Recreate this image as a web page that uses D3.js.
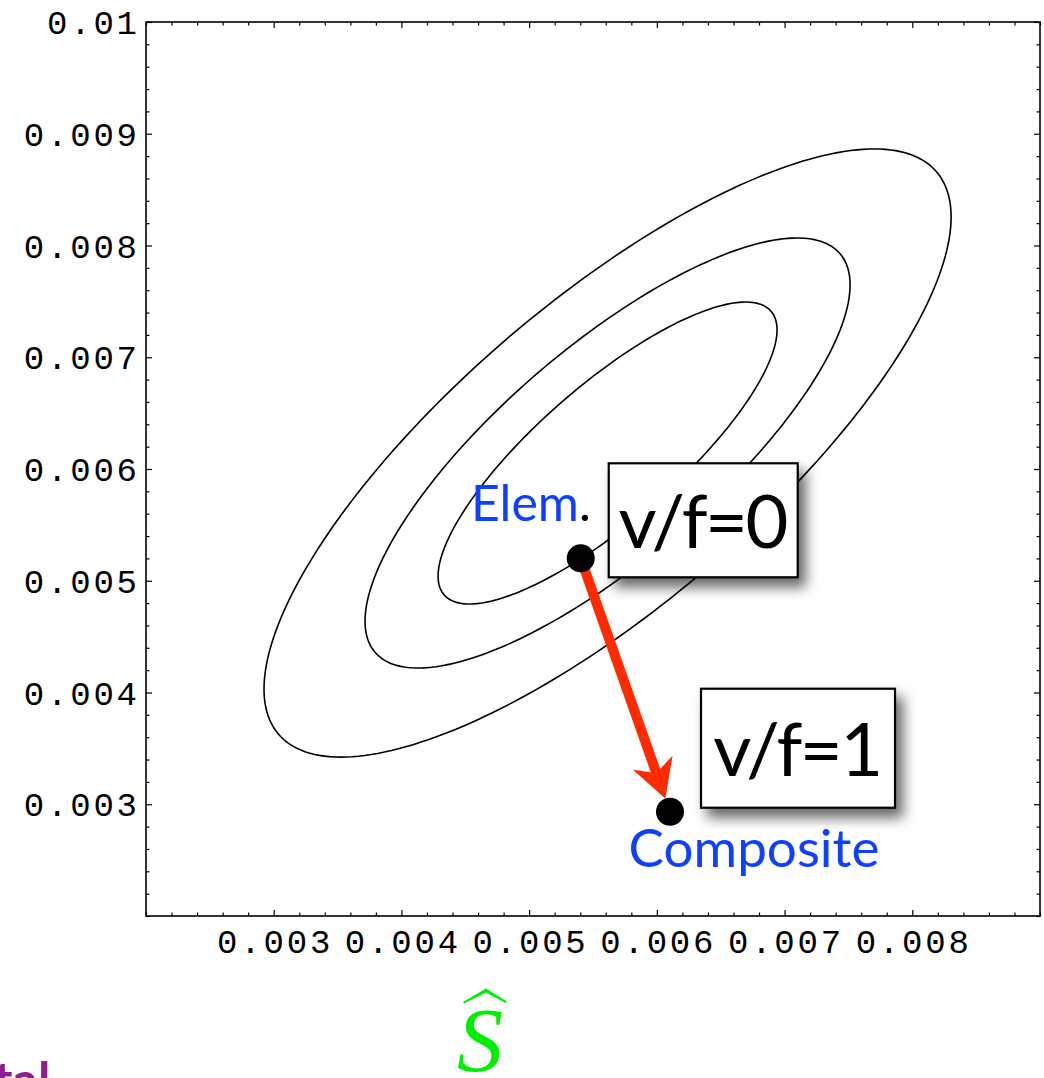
<!DOCTYPE html>
<html>
<head>
<meta charset="utf-8">
<script src="https://cdn.jsdelivr.net/npm/d3@7"></script>
<style>
  html, body { margin: 0; padding: 0; background: #fff; }
  svg { display: block; }
</style>
</head>
<body>
<svg id="chart" width="1044" height="1078"></svg>
<script>
// ---------------- data ----------------
const xDomain = [0.002, 0.009];
const yDomain = [0.002, 0.010];
const xTickValues = [0.003, 0.004, 0.005, 0.006, 0.007, 0.008];
const xTickLabels = ["0.003", "0.004", "0.005", "0.006", "0.007", "0.008"];
const yTickValues = [0.003, 0.004, 0.005, 0.006, 0.007, 0.008, 0.009, 0.010];
const yTickLabels = ["0.003", "0.004", "0.005", "0.006", "0.007", "0.008", "0.009", "0.01"];
const minorStep = 0.0002;

// elliptical contour lines:
// common centre, and for each contour its right-most point and its top y value
const contourCenter = [0.005614, 0.006143];
const contourRightX = [0.008304, 0.007513, 0.006941];
const contourRightY = [0.008255, 0.007647, 0.007244];
const contourTopY   = [0.008864, 0.008067, 0.007494];

const pointNames = ["Elem", "Composite"];
const pointX = [0.005404, 0.006103];
const pointY = [0.005201, 0.002933];
const boxLabels = ["v/f=0", "v/f=1"];
const xAxisLabel = "S";
const cornerText = "tal";

// ---------------- layout ----------------
const svg = d3.select("#chart");
const m = { left: 146, top: 22, right: 1040, bottom: 916 };
const x = d3.scaleLinear().domain(xDomain).range([m.left, m.right]);
const y = d3.scaleLinear().domain(yDomain).range([m.bottom, m.top]);

const defs = svg.append("defs");
const f = defs.append("filter").attr("id", "shadow")
  .attr("x", "-20%").attr("y", "-20%").attr("width", "160%").attr("height", "170%");
f.append("feDropShadow").attr("dx", 7).attr("dy", 9).attr("stdDeviation", 6.5)
  .attr("flood-color", "#000").attr("flood-opacity", 0.6);

// ---------------- contours ----------------
// each contour is the ellipse through its right-most and top points around the centre
const angles = d3.range(0, 2 * Math.PI, Math.PI / 120);
const contours = contourRightX.map((rx, i) => {
  const a = rx - contourCenter[0];
  const c = contourRightY[i] - contourCenter[1];
  const t = contourTopY[i] - contourCenter[1];
  const d = Math.sqrt(Math.max(t * t - c * c, 0));
  return angles.map(th => [contourCenter[0] + a * Math.cos(th),
                           contourCenter[1] + c * Math.cos(th) + d * Math.sin(th)]);
});
const line = d3.line().x(d => x(d[0])).y(d => y(d[1])).curve(d3.curveLinearClosed);
svg.append("g").selectAll("path").data(contours).join("path")
  .attr("d", line).attr("fill", "none").attr("stroke", "#000").attr("stroke-width", 1.6);

// ---------------- frame & ticks ----------------
const minorX = d3.range(xDomain[0], xDomain[1] + 1e-9, minorStep).filter(v => !xTickValues.some(t => Math.abs(t - v) < 1e-9));
const minorY = d3.range(yDomain[0], yDomain[1] + 1e-9, minorStep).filter(v => !yTickValues.some(t => Math.abs(t - v) < 1e-9));

function tickAxis(axisFn, scale, vals, size, transform) {
  const g = svg.append("g").attr("transform", transform)
    .call(axisFn(scale).tickValues(vals).tickSize(size).tickFormat(""));
  g.select(".domain").remove();
  g.selectAll("line").attr("stroke", "#000").attr("stroke-width", 1.2);
  return g;
}
tickAxis(d3.axisBottom, x, xTickValues, -6, `translate(0,${m.bottom})`);
tickAxis(d3.axisBottom, x, minorX, -3.5, `translate(0,${m.bottom})`);
tickAxis(d3.axisTop, x, xTickValues, -6, `translate(0,${m.top})`);
tickAxis(d3.axisTop, x, minorX, -3.5, `translate(0,${m.top})`);
tickAxis(d3.axisLeft, y, yTickValues, -6, `translate(${m.left},0)`);
tickAxis(d3.axisLeft, y, minorY, -3.5, `translate(${m.left},0)`);
tickAxis(d3.axisRight, y, yTickValues, -6, `translate(${m.right},0)`);
tickAxis(d3.axisRight, y, minorY, -3.5, `translate(${m.right},0)`);

svg.append("rect").attr("x", m.left).attr("y", m.top)
  .attr("width", m.right - m.left).attr("height", m.bottom - m.top)
  .attr("fill", "none").attr("stroke", "#000").attr("stroke-width", 1.6);

// tick labels
const tickFont = "'Liberation Mono', 'DejaVu Sans Mono', monospace";
const ls = 2.8;
const tfs = 34;
svg.append("g").selectAll("text").data(xTickValues).join("text")
  .attr("x", d => x(d) + ls / 2).attr("y", 953)
  .attr("text-anchor", "middle")
  .attr("font-family", tickFont).attr("font-size", tfs).attr("letter-spacing", ls)
  .attr("fill", "#000")
  .text((d, i) => xTickLabels[i]);
svg.append("g").selectAll("text").data(yTickValues).join("text")
  .attr("x", 137 + ls).attr("y", d => y(d))
  .attr("dy", "0.36em")
  .attr("text-anchor", "end")
  .attr("font-family", tickFont).attr("font-size", tfs).attr("letter-spacing", ls)
  .attr("fill", "#000")
  .text((d, i) => yTickLabels[i]);

// ---------------- arrow ----------------
const p0 = [x(pointX[0]), y(pointY[0])];
const p1 = [x(pointX[1]), y(pointY[1])];
const dx = p1[0] - p0[0], dy = p1[1] - p0[1];
const len = Math.hypot(dx, dy);
const u = [dx / len, dy / len], n = [-u[1], u[0]];
const dotR = 14;
const tip = [p1[0] - u[0] * dotR, p1[1] - u[1] * dotR];
const headL = 38, headW = 21, notch = 11;
const baseC = [tip[0] - u[0] * headL, tip[1] - u[1] * headL];
const notchP = [tip[0] - u[0] * (headL - notch), tip[1] - u[1] * (headL - notch)];
const red = "#ff2a00";
svg.append("line")
  .attr("x1", p0[0]).attr("y1", p0[1]).attr("x2", notchP[0]).attr("y2", notchP[1])
  .attr("stroke", red).attr("stroke-width", 10);
svg.append("path")
  .attr("d", d3.line()([
    tip,
    [baseC[0] + n[0] * headW, baseC[1] + n[1] * headW],
    notchP,
    [baseC[0] - n[0] * headW, baseC[1] - n[1] * headW]
  ]) + "Z")
  .attr("fill", red);

// ---------------- points ----------------
svg.append("g").selectAll("circle").data(pointX).join("circle")
  .attr("cx", d => x(d)).attr("cy", (d, i) => y(pointY[i])).attr("r", dotR)
  .attr("fill", "#000");

const labelFont = "Lato, 'Open Sans', sans-serif";
const blue = "#1040ff";
const elemT = svg.append("text")
  .attr("x", p0[0] + 10).attr("y", p0[1] - 37)
  .attr("text-anchor", "end")
  .attr("font-family", labelFont).attr("font-size", 50);
elemT.append("tspan").attr("fill", blue).text(pointNames[0]);
elemT.append("tspan").attr("fill", "#000").text(".");

svg.append("text")
  .attr("x", p1[0] + 84).attr("y", p1[1] + 55)
  .attr("text-anchor", "middle")
  .attr("font-family", labelFont).attr("font-size", 53)
  .attr("fill", blue)
  .text(pointNames[1]);

// ---------------- boxes ----------------
const boxes = [
  { px: p0, dx: 28, dy: -95, w: 189, h: 114 },
  { px: p1, dx: 31, dy: -123, w: 194, h: 119 }
];
const bg = svg.append("g").selectAll("g").data(boxes).join("g")
  .attr("transform", d => `translate(${d.px[0] + d.dx},${d.px[1] + d.dy})`);
bg.append("rect").attr("width", d => d.w).attr("height", d => d.h)
  .attr("fill", "#fff").attr("stroke", "#000").attr("stroke-width", 2.2)
  .attr("filter", "url(#shadow)");
bg.append("text")
  .attr("x", d => d.w / 2 - 1).attr("y", d => d.h / 2 + 28)
  .attr("text-anchor", "middle")
  .attr("font-family", labelFont).attr("font-size", 74).attr("letter-spacing", -2.5)
  .attr("fill", "#000")
  .text((d, i) => boxLabels[i]);

// ---------------- axis label ----------------
const sx = 480;
svg.append("text")
  .attr("x", sx).attr("y", 1071)
  .attr("text-anchor", "middle")
  .attr("font-family", "'Liberation Serif', 'DejaVu Serif', serif")
  .attr("font-style", "italic").attr("font-size", 92)
  .attr("fill", "#00ee00")
  .text(xAxisLabel);
svg.append("path")
  .attr("d", d3.line()([[463, 1002], [486, 988.5], [507, 1001.5], [505.5, 1003], [486, 992.5], [464, 1003.5]]) + "Z")
  .attr("fill", "#00ee00");

// ---------------- corner text ----------------
svg.append("text")
  .attr("x", -6).attr("y", 1098)
  .attr("font-family", labelFont).attr("font-weight", 700).attr("font-size", 50)
  .attr("fill", "#8e1e8e")
  .text(cornerText);
</script>
</body>
</html>
